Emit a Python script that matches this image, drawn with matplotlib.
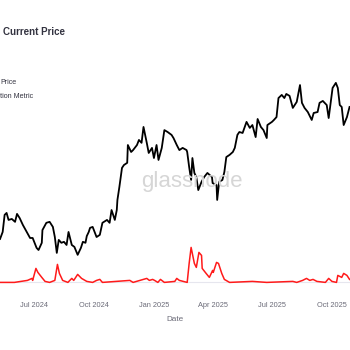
import matplotlib
matplotlib.use('Agg')
import matplotlib.pyplot as plt
import matplotlib.dates as mdates
import pandas as pd

# price series (USD)
price_dates = [
   '2024-05-10', '2024-05-14', '2024-05-17', '2024-05-20', '2024-05-23', '2024-05-28',
   '2024-06-02', '2024-06-05', '2024-06-09', '2024-06-14', '2024-06-20', '2024-06-25',
   '2024-06-29', '2024-07-05', '2024-07-08', '2024-07-13', '2024-07-14', '2024-07-20',
   '2024-07-25', '2024-07-30', '2024-08-02', '2024-08-05', '2024-08-08', '2024-08-12',
   '2024-08-16', '2024-08-20', '2024-08-23', '2024-08-28', '2024-09-01', '2024-09-06',
   '2024-09-11', '2024-09-14', '2024-09-18', '2024-09-20', '2024-09-23', '2024-09-25',
   '2024-09-29', '2024-10-05', '2024-10-10', '2024-10-14', '2024-10-21', '2024-10-25',
   '2024-10-28', '2024-11-02', '2024-11-05', '2024-11-06', '2024-11-09', '2024-11-13',
   '2024-11-16', '2024-11-21', '2024-11-22', '2024-11-27', '2024-11-30', '2024-12-06',
   '2024-12-09', '2024-12-13', '2024-12-16', '2024-12-21', '2024-12-24', '2024-12-29',
   '2025-01-01', '2025-01-05', '2025-01-08', '2025-01-13', '2025-01-17', '2025-01-22',
   '2025-01-28', '2025-01-31', '2025-02-05', '2025-02-09', '2025-02-14', '2025-02-20',
   '2025-02-21', '2025-02-24', '2025-02-27', '2025-03-01', '2025-03-04', '2025-03-07',
   '2025-03-10', '2025-03-15', '2025-03-19', '2025-03-24', '2025-03-31', '2025-04-01',
   '2025-04-07', '2025-04-08', '2025-04-11', '2025-04-16', '2025-04-19', '2025-04-22',
   '2025-04-27', '2025-05-02', '2025-05-05', '2025-05-09', '2025-05-12', '2025-05-17',
   '2025-05-23', '2025-05-28', '2025-06-01', '2025-06-06', '2025-06-09', '2025-06-14',
   '2025-06-18', '2025-06-23', '2025-06-24', '2025-07-01', '2025-07-04', '2025-07-08',
   '2025-07-11', '2025-07-16', '2025-07-20', '2025-07-23', '2025-07-28', '2025-08-02',
   '2025-08-08', '2025-08-13', '2025-08-16', '2025-08-20', '2025-08-25', '2025-08-31',
   '2025-09-03', '2025-09-09', '2025-09-12', '2025-09-17', '2025-09-23', '2025-09-26',
   '2025-10-02', '2025-10-07', '2025-10-10', '2025-10-13', '2025-10-16', '2025-10-19',
   '2025-10-24', '2025-10-28']
price_values = [
   59800, 62700, 69800, 70600, 67700, 68100,
   66900, 70200, 68500, 65600, 62700, 60200,
   60200, 56100, 55200, 58200, 63500, 66500,
   66900, 64800, 60600, 54000, 59400, 58200,
   58600, 57300, 62700, 57300, 56500, 53200,
   56100, 58600, 58200, 61000, 62700, 64400,
   64800, 60600, 61500, 66500, 67700, 66500,
   71800, 67700, 71800, 76000, 81400, 89300,
   90500, 91400, 98800, 95900, 96700, 98800,
   100900, 99700, 106300, 99700, 95500, 97600,
   93400, 98800, 92600, 97600, 105000, 104200,
   103000, 101700, 98800, 96700, 97600, 96700,
   95900, 89700, 84300, 93400, 87200, 85500,
   80100, 83500, 85500, 87200, 85500, 83000,
   82200, 76000, 83500, 84300, 87600, 93800,
   94700, 95900, 97600, 103000, 104200, 103800,
   108400, 105900, 107100, 102100, 109600, 106300,
   105000, 101700, 107100, 108400, 109200, 110400,
   118300, 119600, 118300, 120000, 119200, 114200,
   116700, 123700, 116300, 114200, 112500, 109200,
   112100, 112500, 116300, 117100, 115400, 110000,
   122500, 124600, 122500, 115400, 114600, 107100,
   110400, 114600]

# metric series (arbitrary units)
metric_dates = [
   '2024-05-10', '2024-06-01', '2024-06-21', '2024-06-28', '2024-06-29', '2024-07-04',
   '2024-07-07', '2024-07-13', '2024-07-18', '2024-07-25', '2024-08-02', '2024-08-06',
   '2024-08-09', '2024-08-14', '2024-08-22', '2024-08-28', '2024-08-31', '2024-09-06',
   '2024-09-12', '2024-09-20', '2024-09-29', '2024-10-05', '2024-10-10', '2024-10-14',
   '2024-11-25', '2024-11-30', '2024-12-21', '2024-12-25', '2024-12-30', '2025-01-02',
   '2025-01-07', '2025-01-11', '2025-01-17', '2025-02-02', '2025-02-05', '2025-02-09',
   '2025-02-21', '2025-02-24', '2025-02-27', '2025-03-04', '2025-03-07', '2025-03-11',
   '2025-03-15', '2025-03-16', '2025-03-22', '2025-03-27', '2025-04-01', '2025-04-02',
   '2025-04-07', '2025-04-10', '2025-04-15', '2025-04-19', '2025-04-27', '2025-06-01',
   '2025-06-23', '2025-08-02', '2025-08-08', '2025-08-17', '2025-08-23', '2025-08-28',
   '2025-09-02', '2025-09-08', '2025-09-21', '2025-09-26', '2025-10-01', '2025-10-08',
   '2025-10-10', '2025-10-16', '2025-10-19', '2025-10-24', '2025-10-28']
metric_values = [
   0.0, 0.0, 0.2, 0.4, 0.2, 1.4,
   1.0, 0.5, 0.1, 0.0, 0.2, 1.8,
   0.9, 0.2, 0.0, 0.4, 0.2, 0.8,
   0.4, 0.1, 0.0, 0.2, 0.3, 0.0,
   0.2, 0.0, 0.4, 0.2, 0.3, 0.2,
   0.0, 0.3, 0.0, 0.1, 0.4, 0.2,
   0.0, 1.9, 3.5, 1.9, 1.5, 3.0,
   2.7, 1.4, 0.9, 0.5, 1.2, 1.0,
   2.0, 1.9, 0.9, 0.3, 0.0, 0.1,
   0.0, 0.1, 0.0, 0.2, 0.4, 0.2,
   0.3, 0.1, 0.0, 0.4, 0.1, 0.0,
   0.7, 0.5, 0.9, 0.7, 0.3]

tickColor = '#6b6b78'
textColor = '#333340'

plt.rcParams['font.family'] = ['Liberation Sans', 'DejaVu Sans']

figure = plt.figure(figsize=(3.5, 3.5), dpi=100)
figure.patch.set_facecolor('white')

# the chart is cropped: the plot area runs to the figure edges
axes = figure.add_axes([0.0, 0.186, 1.0, 0.614])
metricAxes = axes.twinx()

x0 = pd.Timestamp('2024-07-01') - pd.Timedelta(days=52.1)
x1 = pd.Timestamp('2024-07-01') + pd.Timedelta(days=484.7)

metricAxes.axhline(0, color='#e6e6ee', linewidth=0.8, zorder=1)
metricAxes.plot(pd.to_datetime(metric_dates), metric_values, color='#ff1a1a',
                linewidth=1.1, zorder=3)
axes.plot(pd.to_datetime(price_dates), price_values, color='black',
          linewidth=1.3, zorder=3)

axes.set_xlim(x0, x1)
axes.set_ylim(40720, 129945)
metricAxes.set_ylim(-0.25, 21.25)

for a in (axes, metricAxes):
   for spine in a.spines.values():
      spine.set_visible(False)
   a.set_yticks([])

axes.xaxis.set_major_locator(mdates.MonthLocator(bymonth=[1, 4, 7, 10]))
axes.xaxis.set_major_formatter(mdates.DateFormatter('%b %Y'))
axes.tick_params(axis='x', length=0, pad=12, labelsize=5.3, labelcolor=tickColor)
axes.set_xlabel('Date', fontsize=5.9, color=tickColor, labelpad=5)

# watermark
figure.text(192 / 350, 1 - 182 / 350, 'glassnode', fontsize=16, color='#d6d6d6',
            ha='center', va='center', zorder=0)

# title and legend (cut off on the left in the original)
figure.text(3 / 350, 1 - 32 / 350, 'Current Price', fontsize=7, fontweight='bold',
            color=textColor, ha='left', va='center')
figure.text(0 / 350, 1 - 82 / 350, 'Price', fontsize=5.1, color=textColor,
            ha='left', va='center')
figure.text(33 / 350, 1 - 97 / 350, 'Capitulation Metric', fontsize=5.1,
            color=textColor, ha='right', va='center')

figure.savefig('out.png', dpi=100)
